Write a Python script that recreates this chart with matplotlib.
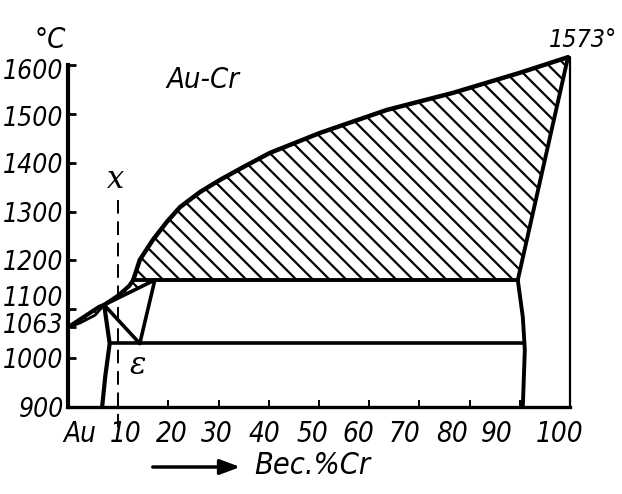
import matplotlib
matplotlib.use('Agg')
import matplotlib.pyplot as plt
from matplotlib.patches import Polygon, FancyArrowPatch
import matplotlib.transforms as mtransforms
import matplotlib.font_manager as fm

# ---------------- data (wt.% Cr, temperature in deg C) ----------------
lens_upper_x = [0.0, 2.8, 6.2, 7.2]
lens_upper_T = [1063, 1082, 1105, 1109]
lens_lower_x = [0.0, 2.4, 5.4, 7.2]
lens_lower_T = [1063, 1072, 1088, 1109]
band_upper_x = [7.2, 10.0, 12.2, 13.0]
band_upper_T = [1109, 1128, 1148, 1160]
band_lower_x = [7.2, 17.3]
band_lower_T = [1109, 1160]
liq_x = [13.0, 14.3, 16.9, 19.7, 22.3, 26.3, 30.3, 34.9, 40.2, 50.2, 63.5, 76.7, 90.0, 99.6]
liq_T = [1160, 1201, 1242, 1279, 1309, 1340, 1365, 1391, 1420, 1461, 1508, 1543, 1584, 1616]
cr_sol_x = [89.6, 99.6]
cr_sol_T = [1160, 1616]
cr_solvus_x = [89.6, 90.6, 91.0, 90.6]
cr_solvus_T = [1160, 1084, 1017, 900]
au_solvus_x = [7.2, 8.3, 7.4, 6.8]
au_solvus_T = [1109, 1030, 961, 900]
eps_left_x = [7.2, 14.3]
eps_left_T = [1109, 1030]
eps_right_x = [17.3, 14.3]
eps_right_T = [1160, 1030]
peritectic_T = 1160
peritectic_x = [13.0, 89.6]
eutectoid_T = 1030
eutectoid_x = [8.3, 90.9]
section_x = 10.0
section_T = [1324, 853]

ytick_values = [900, 1000, 1063, 1100, 1200, 1300, 1400, 1500, 1600]
ytick_labels = ['900', '1000', '1063', '1100', '1200', '1300', '1400', '1500', '1600']
xtick_values = [10, 20, 30, 40, 50, 60, 70, 80, 90]
xlabels = ['Au', '10', '20', '30', '40', '50', '60', '70', '80', '90', '100']
xlabel_at = [2.4, 11.4, 20.7, 29.7, 39.2, 48.6, 57.8, 67.1, 76.5, 85.5, 98.0]

# ---------------- font choice: narrow italic if available ----------------
def pick_font():
    best = None
    for f in fm.fontManager.ttflist:
        nm = (f.name + ' ' + f.fname).lower()
        narrow = ('narrow' in nm or 'condensed' in nm or
                  str(f.stretch) in ('condensed', 'semi-condensed', 'extra-condensed'))
        ital = f.style in ('italic', 'oblique')
        if narrow and ital and f.weight in (400, 'normal', 'regular'):
            return f.fname, True
        if narrow and ital and best is None:
            best = f.fname
    if best:
        return best, True
    for f in fm.fontManager.ttflist:
        if f.name == 'Roboto' and f.style == 'italic' and f.weight in (400, 'normal', 'regular'):
            return f.fname, False
    return None, False

fpath, is_narrow = pick_font()
SCALE = 1.0 if is_narrow else 0.82

def fp(size):
    if fpath:
        return fm.FontProperties(fname=fpath, size=size * SCALE)
    return fm.FontProperties(family='DejaVu Sans', style='italic', size=size * SCALE)

plt.rcParams['hatch.linewidth'] = 1.6

W, H = 622, 494
fig = plt.figure(figsize=(W / 100, H / 100), dpi=100)
ax = fig.add_axes([68 / W, 1 - 407 / H, (570 - 68) / W, (407 - 65) / H])
ax.set_xlim(0, 100)
ax.set_ylim(900, 1600)

for s in ['top', 'right']:
    ax.spines[s].set_visible(False)
ax.spines['left'].set_linewidth(3.0)
ax.spines['bottom'].set_linewidth(2.4)

def line(x, y, lw=3.0, **kw):
    d = dict(color='black', lw=lw, solid_capstyle='round', solid_joinstyle='round', clip_on=False)
    d.update(kw)
    ax.plot(x, y, **d)

HATCH = '\\\\'
main_poly = list(zip(liq_x, liq_T)) + [(cr_sol_x[0], cr_sol_T[0])]
ax.add_patch(Polygon(main_poly, closed=True, facecolor='none', edgecolor='black',
                     hatch=HATCH, lw=0, clip_on=False))
lens_poly = list(zip(lens_upper_x, lens_upper_T)) + list(zip(lens_lower_x[::-1], lens_lower_T[::-1]))
ax.add_patch(Polygon(lens_poly, closed=True, facecolor='none', edgecolor='black',
                     hatch=HATCH, lw=0, clip_on=False))
band_poly = list(zip(band_upper_x, band_upper_T)) + [(band_lower_x[1], peritectic_T),
                                                     (band_lower_x[0], band_lower_T[0])]
ax.add_patch(Polygon(band_poly, closed=True, facecolor='none', edgecolor='black',
                     hatch=HATCH, lw=0, clip_on=False))

line(lens_upper_x, lens_upper_T)
line(lens_lower_x, lens_lower_T, lw=2.0)
line(band_upper_x, band_upper_T)
line(band_lower_x, band_lower_T, lw=2.6)
line(liq_x, liq_T, lw=3.2)
line(cr_sol_x, cr_sol_T, lw=2.8)
line(cr_solvus_x, cr_solvus_T, lw=2.8)
line(au_solvus_x, au_solvus_T, lw=3.0)
line(eps_left_x, eps_left_T, lw=2.6)
line(eps_right_x, eps_right_T, lw=2.6)
line(peritectic_x, [peritectic_T] * 2, lw=2.8)
line(eutectoid_x, [eutectoid_T] * 2, lw=2.6)
line([100, 100], [900, liq_T[-1]], lw=1.6)
ax.plot([section_x] * 2, section_T, color='black', lw=1.4, ls=(0, (7, 4)), clip_on=False)

ax.set_yticks(ytick_values)
ax.set_yticklabels(ytick_labels)
for lab in ax.get_yticklabels():
    lab.set_fontproperties(fp(19))
ax.tick_params(axis='y', direction='in', length=6, width=2, pad=3)
ax.set_xticks(xtick_values)
ax.tick_params(axis='x', direction='in', length=5, width=1.4, labelbottom=False)

shifts = {'1100': 13, '1063': 4, '1600': -4, '1500': -2}
for lab in ax.get_yticklabels():
    dy = shifts.get(lab.get_text(), 0)
    if dy:
        lab.set_transform(lab.get_transform() +
                          mtransforms.ScaledTranslation(0, dy / 100, fig.dpi_scale_trans))

trans = mtransforms.blended_transform_factory(ax.transData, ax.transAxes)
for xl, xp in zip(xlabels, xlabel_at):
    ax.text(xp, -0.08, xl, transform=trans, ha='center', va='center', fontproperties=fp(20))

def ftext(px, py, s, size=20, **kw):
    d = dict(ha='center', va='center')
    d.update(kw)
    if 'family' not in kw:
        d['fontproperties'] = fp(size)
    else:
        d['fontsize'] = size
    fig.text(px / W, 1 - py / H, s, **d)

ftext(50, 40, '°C', 21)
ftext(583, 40, '1573°', 18)
ftext(203, 80, 'Au-Cr', 21)
ftext(116, 180, 'x', 22, family=['DejaVu Serif'], style='italic')
ftext(138, 366, 'ε', 22, family=['DejaVu Serif'], style='italic')
ftext(312, 465, 'Вес.%Cr', 22)

fig.add_artist(FancyArrowPatch(
    (150 / W, 1 - 467 / H), (243 / W, 1 - 467 / H), transform=fig.transFigure,
    arrowstyle='-|>,head_length=8,head_width=3', mutation_scale=1.5, lw=2.5, color='black'))

fig.savefig('out.png', dpi=100)
